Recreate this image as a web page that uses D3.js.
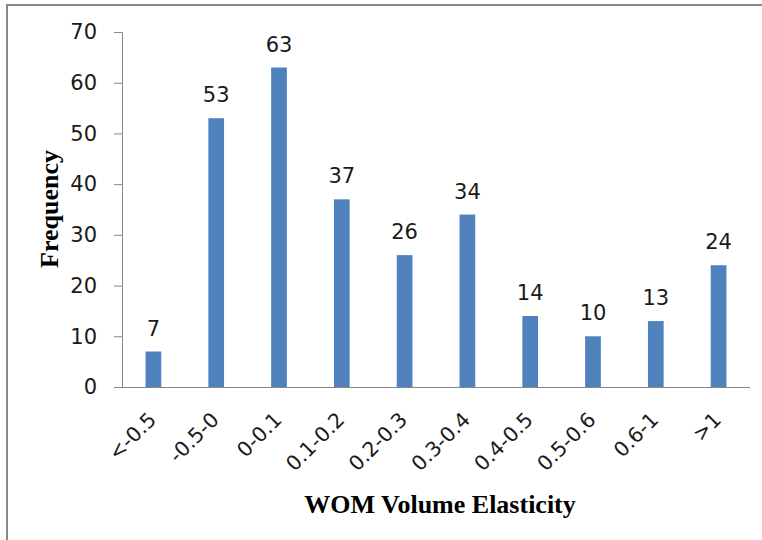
<!DOCTYPE html>
<html>
<head>
<meta charset="utf-8">
<script src="https://cdn.jsdelivr.net/npm/d3@7"></script>
<style>
  html, body { margin: 0; padding: 0; background: #fff; }
  svg { display: block; }
</style>
</head>
<body>
<div id="chart"></div>
<script>
const categories = ["<-0.5", "-0.5-0", "0-0.1", "0.1-0.2", "0.2-0.3", "0.3-0.4", "0.4-0.5", "0.5-0.6", "0.6-1", ">1"];
const frequencies = [7, 53, 63, 37, 26, 34, 14, 10, 13, 24];
const yTicks = [0, 10, 20, 30, 40, 50, 60, 70];
const xTitle = "WOM Volume Elasticity";
const yTitle = "Frequency";

const W = 762, H = 540;
const mLeft = 122, mRight = 750, mTop = 32, mBottom = 387;

const svg = d3.select("#chart").append("svg").attr("width", W).attr("height", H);

// outer border
svg.append("rect")
  .attr("x", 7).attr("y", 5).attr("width", W + 10).attr("height", H + 10)
  .attr("fill", "#fff").attr("stroke", "#888").attr("stroke-width", 2);

const x = d3.scaleBand().domain(categories).range([mLeft, mRight]).paddingInner(0.75).paddingOuter(0.375);
const y = d3.scaleLinear().domain([0, 70]).range([mBottom, mTop]);

// y axis
const yAxis = svg.append("g")
  .attr("transform", `translate(${mLeft},0)`)
  .call(d3.axisLeft(y).tickValues(yTicks).tickSize(8).tickPadding(17).tickSizeOuter(0));
yAxis.select(".domain").attr("stroke", "#868686");
yAxis.selectAll(".tick line").attr("stroke", "#868686");
yAxis.selectAll(".tick text")
  .attr("font-family", "DejaVu Sans").attr("font-size", 21).attr("fill", "#1a1a1a");

// bars
svg.append("g").selectAll("rect").data(categories).join("rect")
  .attr("x", (d) => x(d))
  .attr("y", (d, i) => y(frequencies[i]))
  .attr("width", x.bandwidth())
  .attr("height", (d, i) => y(0) - y(frequencies[i]))
  .attr("fill", "#4F81BD");

// value labels
svg.append("g").selectAll("text").data(categories).join("text")
  .attr("x", (d) => x(d) + x.bandwidth() / 2)
  .attr("y", (d, i) => y(frequencies[i]) - 16)
  .attr("text-anchor", "middle")
  .attr("font-family", "DejaVu Sans").attr("font-size", 21).attr("fill", "#1a1a1a")
  .text((d, i) => frequencies[i]);

// x axis
const xAxis = svg.append("g")
  .attr("transform", `translate(0,${mBottom})`)
  .call(d3.axisBottom(x).tickSize(0).tickSizeOuter(0));
xAxis.select(".domain").attr("stroke", "#868686").attr("d", `M${mLeft},0.5H${mRight}`);
xAxis.selectAll(".tick text")
  .attr("font-family", "DejaVu Sans").attr("font-size", 20.5).attr("fill", "#1a1a1a")
  .attr("text-anchor", "end")
  .attr("transform", "translate(4,34) rotate(-45)")
  .attr("y", 0).attr("dy", 0).attr("x", 0);

// axis titles
svg.append("text")
  .attr("x", 440).attr("y", 513)
  .attr("text-anchor", "middle")
  .attr("font-family", "Liberation Serif").attr("font-weight", "bold").attr("font-size", 26)
  .attr("fill", "#000")
  .text(xTitle);

svg.append("text")
  .attr("transform", "translate(58,209) rotate(-90)")
  .attr("text-anchor", "middle")
  .attr("font-family", "Liberation Serif").attr("font-weight", "bold").attr("font-size", 26)
  .attr("fill", "#000")
  .text(yTitle);
</script>
</body>
</html>
